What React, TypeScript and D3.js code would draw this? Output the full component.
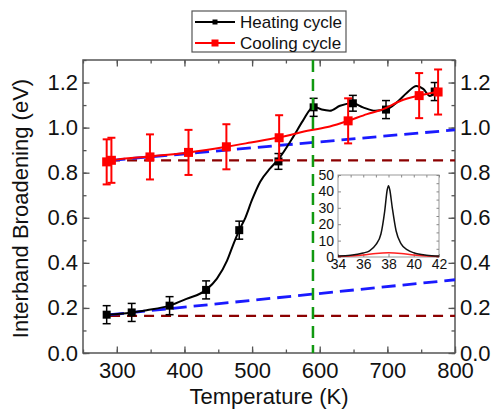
import * as React from "react";
import * as d3 from "d3";

// heating cycle: measured points + fitted curve
const heatT = [285, 322, 378, 432, 481, 539, 591, 649, 698, 770];
const heatV = [0.17, 0.18, 0.21, 0.28, 0.545, 0.85, 1.09, 1.108, 1.08, 1.16];
const heatErr = [0.04, 0.04, 0.04, 0.04, 0.04, 0.035, 0.04, 0.035, 0.04, 0.04];
const heatCurve = [
    [285, 0.17], [305, 0.174], [323, 0.18], [344, 0.19], [378, 0.21], [403, 0.24],
    [432, 0.28], [448, 0.33], [463, 0.41], [472, 0.48], [481, 0.545], [490, 0.6],
    [500, 0.68], [512, 0.76], [527, 0.82], [539, 0.86], [561, 0.96], [575, 1.03],
    [591, 1.093], [603, 1.08], [615, 1.075], [630, 1.097], [649, 1.108], [664, 1.09],
    [682, 1.075], [698, 1.08], [714, 1.112], [729, 1.155], [743, 1.185], [753, 1.172],
    [763, 1.14], [770, 1.15]
];

// cooling cycle
const coolT = [285, 292, 349, 406, 462, 540, 642, 747, 775];
const coolV = [0.848, 0.855, 0.87, 0.89, 0.915, 0.955, 1.03, 1.142, 1.158];
const coolErr = [0.1, 0.1, 0.1, 0.1, 0.1, 0.1, 0.1, 0.1, 0.1];
const coolCurve = [
    [285, 0.852], [300, 0.858], [349, 0.872], [406, 0.89], [462, 0.915], [498, 0.934],
    [540, 0.957], [586, 0.988], [615, 1.005], [642, 1.03], [670, 1.06], [694, 1.082],
    [719, 1.118], [747, 1.142], [773, 1.158]
];

// reference lines
const blueUpper = [[292, 0.855], [800, 0.99]];
const blueLower = [[290, 0.17], [800, 0.325]];
const darkRedUpper = [[290, 0.855], [800, 0.855]];
const darkRedLower = [[290, 0.165], [800, 0.165]];
const transitionT = 590;

const seriesNames = ["Heating cycle", "Cooling cycle"];
const xTicks = [300, 400, 500, 600, 700, 800];
const yTicks = [0, 0.2, 0.4, 0.6, 0.8, 1.0, 1.2];

// inset spectra
const insetBlack = [
    [34, 0.6], [35, 1.0], [36, 2.4], [36.5, 3.8], [37, 7.5], [37.4, 14], [37.7, 28],
    [37.9, 41], [38, 43.5], [38.1, 41], [38.3, 30], [38.6, 16], [39, 8], [39.5, 4.3],
    [40, 2.6], [41, 1.1], [42, 0.6]
];
const insetRed = [
    [34, 0.3], [35, 0.6], [36, 1.2], [37, 2.2], [38, 2.6], [39, 2.2], [40, 1.2],
    [41, 0.6], [42, 0.3]
];
const insetXTicks = [34, 36, 38, 40, 42];
const insetYTicks = [0, 10, 20, 30, 40, 50];

const FONT = "'Liberation Sans', Arial, sans-serif";

export default function App() {
    const ref = React.useRef<SVGSVGElement>(null);

    React.useEffect(() => {
        const svg = d3.select(ref.current);
        svg.selectAll("*").remove();

        const left = 83, right = 455, top = 60, bottom = 353;
        const x = d3.scaleLinear().domain([250, 800]).range([left, right]);
        const y = d3.scaleLinear().domain([0, 1.3]).range([bottom, top]);
        const axisColor = "#555";

        const line = d3.line<number[]>().x(d => x(d[0])).y(d => y(d[1]));
        const smooth = d3.line<number[]>().x(d => x(d[0])).y(d => y(d[1])).curveMonotoneX ? null : null;

        // minor + major ticks (inside)
        const axes = svg.append("g");
        const styleAxis = (g: any) => {
            g.select(".domain").remove();
            g.selectAll("line").attr("stroke", axisColor).attr("stroke-width", 1.3);
            g.selectAll("text").attr("fill", "#111").style("font-family", FONT).style("font-size", "22px");
        };
        const minorX = d3.range(250, 801, 50);
        const minorY = d3.range(0, 1.31, 0.1);

        axes.append("g").attr("transform", `translate(0,${bottom})`)
            .call(d3.axisBottom(x).tickValues(minorX).tickSize(-3.5).tickFormat(() => ""))
            .call(styleAxis);
        axes.append("g").attr("transform", `translate(0,${bottom})`)
            .call(d3.axisBottom(x).tickValues(xTicks).tickSizeInner(-6.5).tickSizeOuter(0).tickPadding(9).tickFormat(d3.format("d")))
            .call(styleAxis);
        axes.append("g").attr("transform", `translate(0,${top})`)
            .call(d3.axisTop(x).tickValues(minorX).tickSize(-3.5).tickFormat(() => ""))
            .call(styleAxis);
        axes.append("g").attr("transform", `translate(0,${top})`)
            .call(d3.axisTop(x).tickValues(xTicks).tickSize(-6.5).tickFormat(() => ""))
            .call(styleAxis);
        axes.append("g").attr("transform", `translate(${left},0)`)
            .call(d3.axisLeft(y).tickValues(minorY).tickSize(-3.5).tickFormat(() => ""))
            .call(styleAxis);
        axes.append("g").attr("transform", `translate(${left},0)`)
            .call(d3.axisLeft(y).tickValues(yTicks).tickSizeInner(-6.5).tickSizeOuter(0).tickPadding(5).tickFormat(d3.format(".1f")))
            .call(styleAxis);
        axes.append("g").attr("transform", `translate(${right},0)`)
            .call(d3.axisRight(y).tickValues(minorY).tickSize(-3.5).tickFormat(() => ""))
            .call(styleAxis);
        axes.append("g").attr("transform", `translate(${right},0)`)
            .call(d3.axisRight(y).tickValues(yTicks).tickSizeInner(-6.5).tickSizeOuter(0).tickPadding(5).tickFormat(d3.format(".1f")))
            .call(styleAxis);

        svg.append("rect")
            .attr("x", left).attr("y", top)
            .attr("width", right - left).attr("height", bottom - top)
            .attr("fill", "none").attr("stroke", axisColor).attr("stroke-width", 1.5);

        // axis titles
        svg.append("text")
            .attr("x", (left + right) / 2).attr("y", 404)
            .attr("text-anchor", "middle")
            .style("font-family", FONT).style("font-size", "22px").attr("fill", "#111")
            .text("Temperature (K)");
        svg.append("text")
            .attr("transform", `translate(28,${(top + bottom) / 2 + 2}) rotate(-90)`)
            .attr("text-anchor", "middle")
            .style("font-family", FONT).style("font-size", "22px").attr("fill", "#111")
            .text("Interband Broadening (eV)");

        // dashed reference lines
        const dashed = (data: number[][], color: string, dash: string, w: number) =>
            svg.append("path").attr("d", line(data)).attr("fill", "none")
                .attr("stroke", color).attr("stroke-width", w).attr("stroke-dasharray", dash);
        dashed(darkRedUpper, "#8b0000", "10,7", 2.3);
        dashed(darkRedLower, "#8b0000", "10,7", 2.3);
        dashed(blueUpper, "#1a1aff", "14,7", 2.8);
        dashed(blueLower, "#1a1aff", "14,7", 2.8);

        const curve = d3.line<number[]>().x(d => x(d[0])).y(d => y(d[1])).curve(d3.curveMonotoneX);

        const drawSeries = (ts: number[], vs: number[], es: number[], path: number[][], color: string, size: number, errW: number) => {
            const g = svg.append("g");
            g.append("path").attr("d", curve(path)).attr("fill", "none")
                .attr("stroke", color).attr("stroke-width", 2);
            const pts = ts.map((t, i) => ({ t, v: vs[i], e: es[i] }));
            const eb = g.selectAll("g.err").data(pts).enter().append("g").attr("class", "err")
                .attr("stroke", color).attr("stroke-width", errW);
            eb.append("line").attr("x1", d => x(d.t)).attr("x2", d => x(d.t))
                .attr("y1", d => y(d.v - d.e)).attr("y2", d => y(d.v + d.e));
            eb.append("line").attr("x1", d => x(d.t) - 4).attr("x2", d => x(d.t) + 4)
                .attr("y1", d => y(d.v - d.e)).attr("y2", d => y(d.v - d.e));
            eb.append("line").attr("x1", d => x(d.t) - 4).attr("x2", d => x(d.t) + 4)
                .attr("y1", d => y(d.v + d.e)).attr("y2", d => y(d.v + d.e));
            g.selectAll("rect").data(pts).enter().append("rect")
                .attr("x", d => x(d.t) - size / 2).attr("y", d => y(d.v) - size / 2)
                .attr("width", size).attr("height", size).attr("fill", color);
        };
        drawSeries(heatT, heatV, heatErr, heatCurve, "#000", 8, 1.5);
        drawSeries(coolT, coolV, coolErr, coolCurve, "#ff0000", 9, 2);

        // transition temperature
        svg.append("line")
            .attr("x1", x(transitionT)).attr("x2", x(transitionT))
            .attr("y1", top).attr("y2", bottom)
            .attr("stroke", "#119911").attr("stroke-width", 2.5).attr("stroke-dasharray", "12,7");

        // legend
        const leg = svg.append("g");
        leg.append("rect").attr("x", 192).attr("y", 11).attr("width", 154).attr("height", 41)
            .attr("fill", "#fff").attr("stroke", "#555").attr("stroke-width", 1.2);
        const legColors = ["#000", "#ff0000"];
        const legSizes = [5, 7];
        seriesNames.forEach((name, i) => {
            const cy = 22 + i * 21;
            leg.append("line").attr("x1", 195).attr("x2", 235).attr("y1", cy).attr("y2", cy)
                .attr("stroke", legColors[i]).attr("stroke-width", 2);
            leg.append("rect").attr("x", 215 - legSizes[i] / 2).attr("y", cy - legSizes[i] / 2)
                .attr("width", legSizes[i]).attr("height", legSizes[i]).attr("fill", legColors[i]);
            leg.append("text").attr("x", 240).attr("y", cy + 6)
                .style("font-family", FONT).style("font-size", "17px").attr("fill", "#111")
                .text(name);
        });

        // inset
        const il = 338, ir = 439, it = 175, ib = 257;
        const ix = d3.scaleLinear().domain([34, 42]).range([il, ir]);
        const iy = d3.scaleLinear().domain([0, 50]).range([ib, it]);
        const ins = svg.append("g");
        ins.append("rect").attr("x", il).attr("y", it).attr("width", ir - il).attr("height", ib - it)
            .attr("fill", "#fff").attr("stroke", "#999").attr("stroke-width", 1);
        const styleInset = (g: any) => {
            g.select(".domain").remove();
            g.selectAll("line").attr("stroke", "#888");
            g.selectAll("text").attr("fill", "#111").style("font-family", FONT).style("font-size", "14px");
        };
        ins.append("g").attr("transform", `translate(0,${ib})`)
            .call(d3.axisBottom(ix).tickValues(insetXTicks).tickSizeInner(-3).tickSizeOuter(0).tickPadding(2))
            .call(styleInset);
        ins.append("g").attr("transform", `translate(${il},0)`)
            .call(d3.axisLeft(iy).tickValues(insetYTicks).tickSizeInner(-3).tickSizeOuter(0).tickPadding(4))
            .call(styleInset);
        ins.append("g").attr("transform", `translate(${ir},0)`)
            .call(d3.axisRight(iy).tickValues(d3.range(0, 51, 5)).tickSize(-2.5).tickFormat(() => ""))
            .call(styleInset);
        ins.append("g").attr("transform", `translate(0,${it})`)
            .call(d3.axisTop(ix).tickValues(d3.range(34, 42.1, 1)).tickSize(-2.5).tickFormat(() => ""))
            .call(styleInset);
        const iline = d3.line<number[]>().x(d => ix(d[0])).y(d => iy(d[1])).curve(d3.curveMonotoneX);
        ins.append("path").attr("d", iline(insetRed)).attr("fill", "none")
            .attr("stroke", "#ff2020").attr("stroke-width", 1.5);
        ins.append("path").attr("d", iline(insetBlack)).attr("fill", "none")
            .attr("stroke", "#111").attr("stroke-width", 1.5);
    }, []);

    return (
        <svg ref={ref} width={496} height={412}
            style={{ position: "absolute", left: 0, top: 0, background: "#fff" }} />
    );
}
